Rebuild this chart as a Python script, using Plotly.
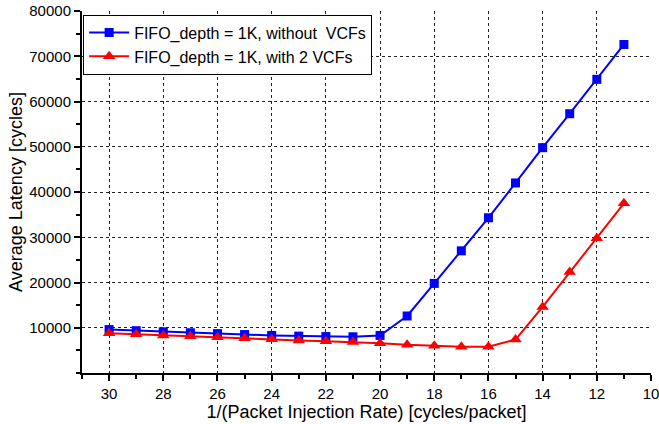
import plotly.graph_objects as go

x_vals = [30, 29, 28, 27, 26, 25, 24, 23, 22, 21, 20, 19, 18, 17, 16, 15, 14, 13, 12, 11]
without_vcfs = [9600, 9350, 9100, 8900, 8700, 8500, 8300, 8150, 8050, 8000, 8300, 12600,
                19800, 27000, 34300, 42000, 49800, 57300, 64900, 72600]
with_2_vcfs = [8800, 8550, 8300, 8100, 7900, 7700, 7450, 7200, 7000, 6850, 6600, 6250,
               6000, 5800, 5800, 7400, 14600, 22300, 29800, 37500]

name_blue = "FIFO_depth = 1K, without\u00a0 VCFs"
name_red = "FIFO_depth = 1K, with 2 VCFs"
x_title = "1/(Packet Injection Rate) [cycles/packet]"
y_title = "Average Latency [cycles]"
x_ticks = [30, 28, 26, 24, 22, 20, 18, 16, 14, 12, 10]
y_ticks = [10000, 20000, 30000, 40000, 50000, 60000, 70000, 80000]

fig = go.Figure()
fig.add_trace(go.Scatter(x=x_vals, y=without_vcfs, name=name_blue, mode="lines+markers",
                         line=dict(color="#0000ff", width=2),
                         marker=dict(symbol="square", size=9, color="#0000ff")))
fig.add_trace(go.Scatter(x=x_vals, y=with_2_vcfs, name=name_red, mode="lines+markers",
                         line=dict(color="#ff0000", width=2),
                         marker=dict(symbol="triangle-up", size=11, color="#ff0000")))

font = "Arial, Liberation Sans, sans-serif"
fig.update_layout(
    width=659, height=424,
    margin=dict(l=82, r=8, t=11, b=51, autoexpand=False),
    paper_bgcolor="white", plot_bgcolor="white",
    font=dict(family=font, size=15, color="black"),
    showlegend=True,
    legend=dict(x=0.002, y=0.99, xanchor="left", yanchor="top",
                bgcolor="white", bordercolor="black", borderwidth=1,
                font=dict(size=16), tracegroupgap=0, itemwidth=40),
)
fig.update_xaxes(
    range=[31, 10], tickmode="array", tickvals=x_ticks, tickformat="d",
    showline=True, linecolor="black", linewidth=2, automargin=False,
    ticklabeloverflow="allow",
    ticks="outside", ticklen=6, tickwidth=1.5, tickcolor="black",
    showgrid=True, gridcolor="#222222", gridwidth=1, griddash="3px,3px",
    minor=dict(dtick=1, tick0=0, ticks="outside", ticklen=4, tickcolor="black", showgrid=False),
    zeroline=False, tickfont=dict(size=15),
    title=dict(text=x_title, font=dict(size=18), standoff=1),
)
fig.update_yaxes(
    range=[0, 80000], tickmode="array", tickvals=y_ticks, tickformat="d",
    showline=True, linecolor="black", linewidth=2, automargin=False,
    ticks="outside", ticklen=6, tickwidth=1.5, tickcolor="black",
    showgrid=True, gridcolor="#222222", gridwidth=1, griddash="3px,3px",
    minor=dict(dtick=5000, tick0=0, ticks="outside", ticklen=4, tickcolor="black", showgrid=False),
    zeroline=False, tickfont=dict(size=15),
    title=dict(text=y_title, font=dict(size=18), standoff=2),
)
fig.write_html("out.html", config={"displayModeBar": False},
               post_script="document.body.style.margin='0';")
